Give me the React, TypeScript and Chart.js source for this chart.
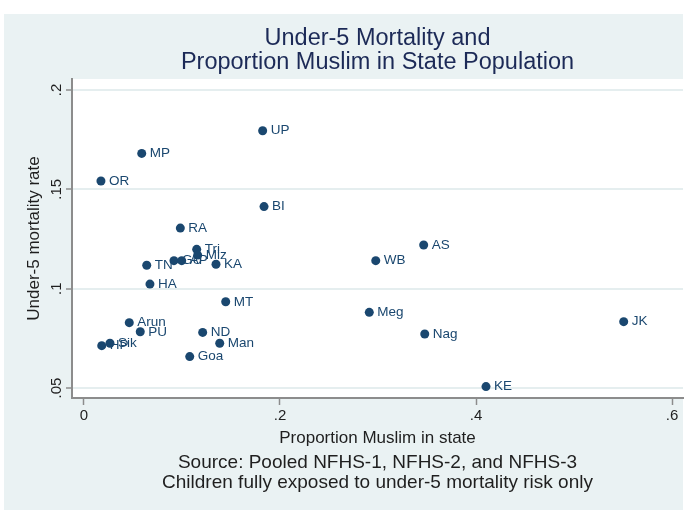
import React, { useEffect, useRef } from 'react';
import { Chart, registerables } from 'chart.js';

Chart.register(...registerables);

// ---- Data ----
const states = ['UP', 'MP', 'OR', 'BI', 'RA', 'Tri', 'Miz', 'GU', 'AP', 'TN', 'KA', 'HA', 'MT', 'Arun', 'PU', 'Sik', 'HP', 'ND', 'Man', 'Goa', 'WB', 'AS', 'Meg', 'Nag', 'JK', 'KE'];
const muslimShare = [0.1823, 0.0589, 0.0173, 0.1837, 0.0983, 0.115, 0.116, 0.0918, 0.0997, 0.064, 0.1347, 0.0673, 0.1446, 0.0462, 0.0574, 0.0265, 0.0181, 0.1211, 0.1385, 0.1079, 0.2977, 0.3466, 0.2911, 0.3477, 0.5507, 0.4102];
const u5mr = [0.1795, 0.1681, 0.1542, 0.1413, 0.1305, 0.1198, 0.1169, 0.1141, 0.1141, 0.1118, 0.1123, 0.1023, 0.0934, 0.0829, 0.0783, 0.0725, 0.0713, 0.078, 0.0725, 0.0658, 0.1141, 0.122, 0.0881, 0.0772, 0.0834, 0.0507];

const xTickValues = [0, 0.2, 0.4, 0.6];
const yTickValues = [0.05, 0.1, 0.15, 0.2];
const xRange = [-0.01224, 0.61122];
const yRange = [0.04497, 0.20554];

const titleLines = ['Under-5 Mortality and', 'Proportion Muslim in State Population'];
const noteLines = ['Source: Pooled NFHS-1, NFHS-2, and NFHS-3', 'Children fully exposed to under-5 mortality risk only'];
const xTitle = 'Proportion Muslim in state';
const yTitle = 'Under-5 mortality rate';

const FAMILY = "'Liberation Sans', Arial, Helvetica, sans-serif";
const NAVY = '#1a476f';
const TEXT = '#1f1f1f';
const AXIS = '#8c8c8c';
const BG = '#eaf2f3';

const fmt = (v: number) => (v === 0 ? '0' : String(+v.toFixed(4)).replace(/^0\./, '.'));

const backgroundPlugin = {
  id: 'stataBackground',
  beforeDraw(chart: any) {
    const { ctx, chartArea: a } = chart;
    ctx.save();
    ctx.fillStyle = '#ffffff';
    ctx.fillRect(0, 0, chart.width, chart.height);
    ctx.fillStyle = BG;
    ctx.fillRect(4, 14, 679, 496);
    ctx.fillStyle = '#ffffff';
    ctx.fillRect(a.left, a.top, a.right - a.left, a.bottom - a.top);
    ctx.restore();
  },
};

const textPlugin = {
  id: 'stataText',
  afterDatasetsDraw(chart: any) {
    const { ctx } = chart;
    const meta = chart.getDatasetMeta(0);
    ctx.save();
    ctx.fillStyle = NAVY;
    ctx.font = `13.5px ${FAMILY}`;
    ctx.textAlign = 'left';
    ctx.textBaseline = 'middle';
    meta.data.forEach((pt: any, i: number) => {
      ctx.fillText(states[i], pt.x + 8, pt.y);
    });
    ctx.restore();
  },
  afterDraw(chart: any) {
    const { ctx, chartArea: a } = chart;
    const cx = (a.left + a.right) / 2;
    ctx.save();
    ctx.textAlign = 'center';
    ctx.textBaseline = 'middle';
    // Title
    ctx.fillStyle = '#1c2a57';
    ctx.font = `23.5px ${FAMILY}`;
    titleLines.forEach((t, i) => ctx.fillText(t, cx, a.top - 40 + i * 24));
    // Note
    ctx.fillStyle = TEXT;
    ctx.font = `19px ${FAMILY}`;
    noteLines.forEach((t, i) => ctx.fillText(t, cx, a.bottom + 65 + i * 19.5));
    // Rotated y tick labels
    const ys = chart.scales.y;
    ctx.font = `15px ${FAMILY}`;
    ys.ticks.forEach((t: any) => {
      const y = ys.getPixelForValue(t.value);
      ctx.save();
      ctx.translate(ys.right - 15, y);
      ctx.rotate(-Math.PI / 2);
      ctx.fillText(fmt(t.value), 0, 0);
      ctx.restore();
    });
    ctx.restore();
  },
};

export default function App() {
  const ref = useRef<HTMLCanvasElement>(null);

  useEffect(() => {
    document.body.style.margin = '0';
    const canvas = ref.current;
    if (!canvas) return;
    const points = states.map((_, i) => ({ x: muslimShare[i], y: u5mr[i] }));
    const chart = new Chart(canvas, {
      type: 'scatter',
      data: {
        datasets: [
          {
            label: 'States',
            data: points,
            backgroundColor: NAVY,
            borderWidth: 0,
            pointRadius: 4.5,
            pointHoverRadius: 4.5,
          },
        ],
      },
      options: {
        responsive: false,
        animation: false,
        devicePixelRatio: 1,
        events: [],
        layout: { padding: { top: 79, left: 4, right: 11, bottom: 61 } },
        plugins: {
          legend: { display: false },
          tooltip: { enabled: false },
          title: { display: false },
        },
        scales: {
          x: {
            type: 'linear',
            min: xRange[0],
            max: xRange[1],
            afterBuildTicks: (s: any) => {
              s.ticks = xTickValues.map((v) => ({ value: v }));
            },
            afterFit: (s: any) => {
              s.height = 52;
            },
            ticks: {
              callback: (v: any) => fmt(Number(v)),
              font: { size: 15, family: FAMILY },
              color: TEXT,
              padding: 2,
              maxRotation: 0,
              minRotation: 0,
              autoSkip: false,
            },
            grid: { drawOnChartArea: false, drawTicks: true, tickLength: 7, tickColor: AXIS, tickWidth: 1.5 },
            border: { display: true, color: AXIS, width: 2 },
            title: {
              display: true,
              text: xTitle,
              color: TEXT,
              font: { size: 17, family: FAMILY },
              padding: { top: 0, bottom: 1 },
            },
          },
          y: {
            type: 'linear',
            min: yRange[0],
            max: yRange[1],
            afterBuildTicks: (s: any) => {
              s.ticks = yTickValues.map((v) => ({ value: v }));
            },
            afterFit: (s: any) => {
              s.width = 68;
            },
            ticks: { display: false },
            grid: { color: '#e5eeef', lineWidth: 2, drawTicks: true, tickLength: 6, tickColor: AXIS, tickWidth: 1.5 },
            border: { display: true, color: AXIS, width: 2 },
            title: {
              display: true,
              text: yTitle,
              color: TEXT,
              font: { size: 17, family: FAMILY },
              padding: { top: 20, bottom: 0 },
            },
          },
        },
      },
      plugins: [backgroundPlugin, textPlugin],
    } as any);
    return () => chart.destroy();
  }, []);

  return (
    <div style={{ width: 694, height: 511 }}>
      <canvas ref={ref} width={694} height={511} style={{ display: 'block', width: 694, height: 511 }} />
    </div>
  );
}
